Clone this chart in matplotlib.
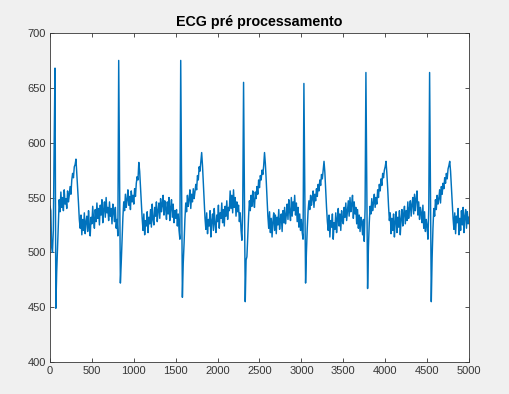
import numpy as np
import matplotlib
matplotlib.use('Agg')
import matplotlib.pyplot as plt

# ECG samples, one value every 10 samples (0 .. 5000)
ecg_0_990 = [
    542, 538, 505, 500, 520, 600, 668, 449, 482, 505,
    530, 548, 537, 555, 541, 550, 538, 557, 544, 549,
    540, 556, 546, 552, 560, 553, 566, 572, 568, 578,
    580, 585, 572, 560, 545, 530, 522, 534, 516, 530,
    520, 536, 517, 528, 533, 519, 538, 524, 515, 532,
    526, 542, 530, 522, 539, 528, 545, 531, 540, 525,
    543, 534, 548, 527, 539, 546, 532, 550, 536, 541,
    529, 546, 533, 540, 526, 544, 537, 528, 541, 522,
    530, 515, 675, 575, 472, 490, 512, 532, 546, 538,
    553, 541, 548, 557, 543, 551, 539, 556, 546, 552,
]
ecg_1000_1990 = [
    544, 558, 551, 563, 569, 566, 582, 574, 560, 545,
    531, 520, 535, 516, 529, 524, 537, 518, 532, 526,
    539, 523, 544, 530, 525, 541, 533, 546, 528, 538,
    545, 531, 549, 537, 543, 552, 534, 547, 540, 530,
    546, 535, 550, 529, 541, 548, 532, 544, 527, 538,
    531, 539, 524, 535, 520, 512, 675, 570, 459, 490,
    508, 530, 545, 537, 552, 542, 548, 557, 540, 553,
    546, 558, 549, 555, 562, 557, 570, 566, 578, 574,
    583, 591, 579, 563, 546, 531, 521, 536, 517, 530,
    524, 538, 514, 529, 535, 520, 540, 526, 518, 534,
]
ecg_2000_2990 = [
    528, 543, 522, 536, 531, 545, 527, 539, 524, 542,
    533, 547, 530, 541, 538, 556, 540, 552, 536, 557,
    541, 550, 533, 546, 537, 543, 528, 536, 520, 511,
    540, 655, 560, 455, 493, 496, 514, 533, 547, 538,
    552, 542, 556, 547, 541, 555, 549, 560, 553, 566,
    559, 570, 566, 575, 571, 579, 591, 581, 566, 549,
    533, 522, 537, 518, 531, 514, 528, 536, 520, 534,
    517, 532, 525, 539, 521, 530, 535, 519, 538, 527,
    541, 526, 534, 544, 530, 548, 537, 529, 550, 533,
    546, 538, 552, 534, 545, 528, 541, 523, 535, 520,
]
ecg_3000_3990 = [
    530, 518, 512, 654, 565, 472, 500, 522, 538, 547,
    539, 552, 543, 549, 556, 541, 553, 547, 558, 551,
    562, 556, 566, 561, 571, 567, 575, 583, 573, 556,
    541, 528, 520, 534, 514, 529, 523, 535, 512, 527,
    521, 536, 518, 531, 540, 524, 535, 520, 538, 529,
    526, 541, 532, 545, 529, 538, 547, 533, 550, 537,
    544, 552, 531, 546, 535, 541, 526, 539, 522, 534,
    519, 532, 527, 516, 530, 510, 540, 664, 560, 467,
    505, 527, 542, 535, 549, 538, 545, 553, 541, 550,
    544, 557, 550, 562, 556, 567, 561, 572, 568, 575,
]
ecg_4000_5000 = [
    578, 583, 572, 558, 542, 529, 536, 517, 531, 520,
    535, 514, 528, 537, 518, 532, 523, 538, 516, 530,
    539, 524, 535, 542, 526, 538, 529, 546, 531, 540,
    547, 533, 544, 550, 535, 553, 538, 549, 556, 534,
    546, 530, 541, 536, 527, 543, 522, 537, 519, 530,
    524, 512, 540, 664, 555, 455, 495, 522, 540, 533,
    548, 539, 552, 544, 549, 557, 545, 560, 553, 563,
    558, 568, 563, 572, 567, 576, 579, 583, 574, 560,
    545, 531, 521, 536, 517, 533, 527, 540, 516, 531,
    520, 538, 525, 541, 518, 533, 539, 522, 537, 526,
    532,
]

ecg = np.array(ecg_0_990 + ecg_1000_1990 + ecg_2000_2990 + ecg_3000_3990 + ecg_4000_5000)
samples = np.arange(len(ecg)) * 10

plt.rcParams['font.family'] = ['Liberation Sans', 'DejaVu Sans']

fig = plt.figure(figsize=(5.09, 3.94), dpi=100, facecolor='#f0f0f0')
ax = fig.add_axes([0.0982, 0.0812, 0.8232, 0.835])
ax.plot(samples, ecg, color='#0072bd', linewidth=1.05)

ax.set_xlim(0, 5000)
ax.set_ylim(400, 700)
ax.set_xticks(np.arange(0, 5001, 500))
ax.set_yticks(np.arange(400, 701, 50))
ax.tick_params(direction='in', length=3, width=0.6, top=True, right=True,
               labelsize=8, colors='#363636', pad=3)
for s in ax.spines.values():
    s.set_color('#363636')
    s.set_linewidth(0.6)
ax.set_title('ECG pré processamento', fontsize=10.3, fontweight='bold', pad=5)

fig.savefig('out.png', dpi=100, facecolor=fig.get_facecolor())
